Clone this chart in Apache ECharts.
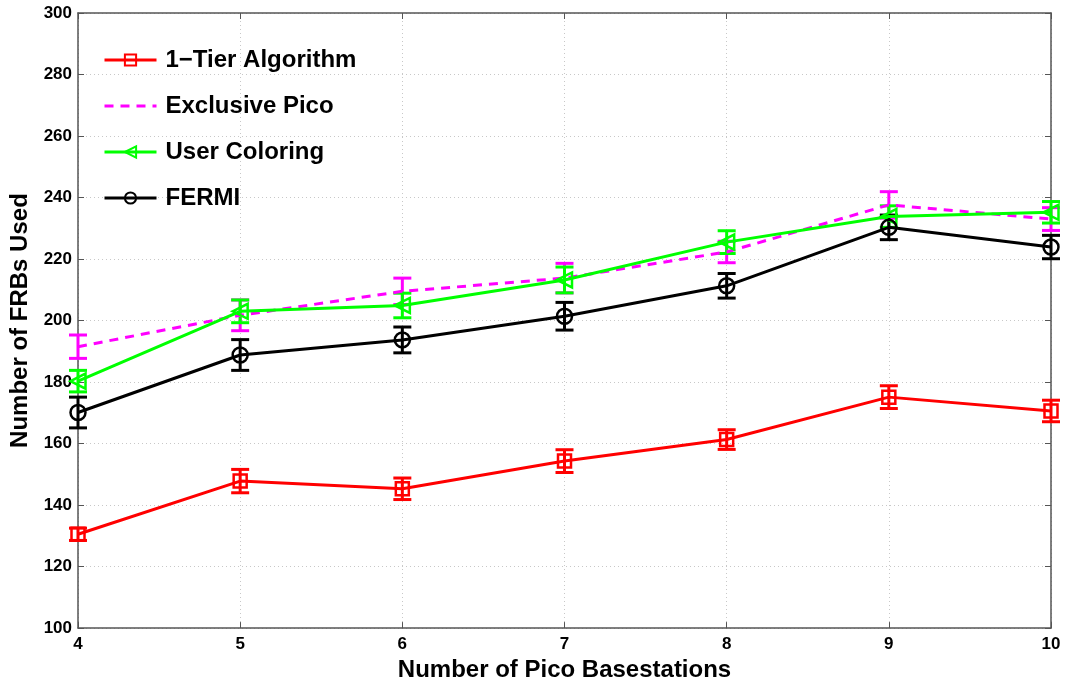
<!DOCTYPE html>
<html>
<head>
<meta charset="utf-8">
<script src="https://cdn.jsdelivr.net/npm/echarts@6/dist/echarts.min.js"></script>
<style>
  html, body { margin: 0; padding: 0; background: #fff; }
  #chart { width: 1068px; height: 687px; }
</style>
</head>
<body>
<div id="chart"></div>
<script>
// Number of pico basestations
const picoCounts = [4, 5, 6, 7, 8, 9, 10];

// Mean FRBs used per scheme
const oneTier      = [130.5, 147.8, 145.3, 154.3, 161.3, 175.1, 170.6];
const exclusive    = [191.5, 201.7, 209.5, 213.8, 222.3, 237.6, 233.0];
const userColoring = [180.3, 203.0, 204.9, 213.2, 225.5, 233.8, 235.2];
const fermi        = [170.1, 188.8, 193.7, 201.4, 211.3, 230.3, 223.9];

// Half-width of the error bar at each point
const oneTierErr      = [2.0, 3.8, 3.5, 3.7, 3.2, 3.7, 3.5];
const exclusiveErr    = [3.8, 5.0, 4.3, 4.8, 3.5, 4.3, 3.7];
const userColoringErr = [3.5, 3.7, 4.0, 4.2, 3.7, 3.5, 3.5];
const fermiErr        = [5.0, 5.0, 4.2, 4.5, 4.0, 4.0, 3.8];

const yTicks = [100, 120, 140, 160, 180, 200, 220, 240, 260, 280, 300];

const seriesNames = ['1\u2212Tier Algorithm', 'Exclusive Pico', 'User Coloring', 'FERMI'];

const chart = echarts.init(document.getElementById('chart'));

const font = '"Liberation Sans", Arial, Helvetica, sans-serif';

function pairs(vals) {
  return picoCounts.map((x, i) => [x, vals[i]]);
}
function errData(vals, errs) {
  return picoCounts.map((x, i) => [x, vals[i] - errs[i], vals[i] + errs[i]]);
}
function errorBars(name, color, vals, errs) {
  return {
    name: name + ' (error)',
    type: 'custom',
    coordinateSystem: 'cartesian2d',
    silent: true,
    z: 3,
    data: errData(vals, errs),
    renderItem: function (params, api) {
      const x = api.value(0);
      const lo = api.coord([x, api.value(1)]);
      const hi = api.coord([x, api.value(2)]);
      const cap = 9;
      const style = { stroke: color, lineWidth: 3 };
      return {
        type: 'group',
        children: [
          { type: 'line', shape: { x1: lo[0], y1: lo[1], x2: hi[0], y2: hi[1] }, style: style },
          { type: 'line', shape: { x1: lo[0] - cap, y1: lo[1], x2: lo[0] + cap, y2: lo[1] }, style: style },
          { type: 'line', shape: { x1: hi[0] - cap, y1: hi[1], x2: hi[0] + cap, y2: hi[1] }, style: style }
        ]
      };
    }
  };
}
function lineSeries(name, color, vals, symbol, opts) {
  return Object.assign({
    name: name,
    type: 'line',
    z: 4,
    data: pairs(vals),
    symbol: symbol,
    symbolSize: 14,
    showAllSymbol: true,
    color: color,
    lineStyle: { color: color, width: 3 },
    itemStyle: { color: 'none', borderColor: color, borderWidth: 2.5, opacity: 1 },
    emphasis: { disabled: true },
    animation: false
  }, opts || {});
}

const gridSplit = { show: true, lineStyle: { color: '#c8c8c8', type: [1, 3], width: 1 } };
const frameLine = { show: true, onZero: false, lineStyle: { color: '#555', width: 1.5 } };
const innerTick = { show: true, inside: true, length: 6, lineStyle: { color: '#555' } };

chart.setOption({
  backgroundColor: '#fff',
  animation: false,
  grid: { left: 78, right: 17, top: 13, bottom: 53, containLabel: false },
  legend: {
    orient: 'vertical',
    left: 103,
    top: 48,
    padding: 0,
    itemWidth: 52,
    itemHeight: 14,
    itemGap: 22,
    lineStyle: { width: 3 },
    data: [
      { name: seriesNames[0] },
      { name: seriesNames[1], itemStyle: { opacity: 0 } },
      { name: seriesNames[2] },
      { name: seriesNames[3] }
    ],
    textStyle: {
      fontFamily: font, fontWeight: 'bold', fontSize: 24, color: '#000',
      lineHeight: 24, padding: [0, 0, 0, 4]
    },
    selectedMode: false
  },
  xAxis: [{
    type: 'value', min: 4, max: 10, interval: 1,
    name: 'Number of Pico Basestations',
    nameLocation: 'middle', nameGap: 25,
    nameTextStyle: { fontFamily: font, fontWeight: 'bold', fontSize: 24, color: '#000' },
    axisLine: frameLine,
    axisTick: innerTick,
    axisLabel: { fontFamily: font, fontWeight: 'bold', fontSize: 17, color: '#000', margin: 8 },
    splitLine: gridSplit
  }, {
    type: 'value', min: 4, max: 10, interval: 1, position: 'top',
    axisLine: frameLine, axisTick: innerTick,
    axisLabel: { show: false }, splitLine: { show: false }
  }],
  yAxis: [{
    type: 'value', min: yTicks[0], max: yTicks[yTicks.length - 1], interval: 20,
    name: 'Number of FRBs Used',
    nameLocation: 'middle', nameGap: 45,
    nameTextStyle: { fontFamily: font, fontWeight: 'bold', fontSize: 24, color: '#000' },
    axisLine: frameLine,
    axisTick: innerTick,
    axisLabel: { fontFamily: font, fontWeight: 'bold', fontSize: 17, color: '#000', margin: 6 },
    splitLine: gridSplit
  }, {
    type: 'value', min: yTicks[0], max: yTicks[yTicks.length - 1], interval: 20, position: 'right',
    axisLine: frameLine, axisTick: innerTick,
    axisLabel: { show: false }, splitLine: { show: false }
  }],
  series: [
    errorBars(seriesNames[0], '#ff0000', oneTier, oneTierErr),
    lineSeries(seriesNames[0], '#ff0000', oneTier, 'rect', { symbolSize: 13 }),
    errorBars(seriesNames[1], '#ff00ff', exclusive, exclusiveErr),
    lineSeries(seriesNames[1], '#ff00ff', exclusive, 'none', {
      lineStyle: { color: '#ff00ff', width: 3, type: [9, 7] }
    }),
    errorBars(seriesNames[2], '#00ff00', userColoring, userColoringErr),
    lineSeries(seriesNames[2], '#00ff00', userColoring, 'triangle', { symbolRotate: 90, symbolSize: 15 }),
    errorBars(seriesNames[3], '#000000', fermi, fermiErr),
    lineSeries(seriesNames[3], '#000000', fermi, 'circle', { symbolSize: 15 })
  ]
});
</script>
</body>
</html>
